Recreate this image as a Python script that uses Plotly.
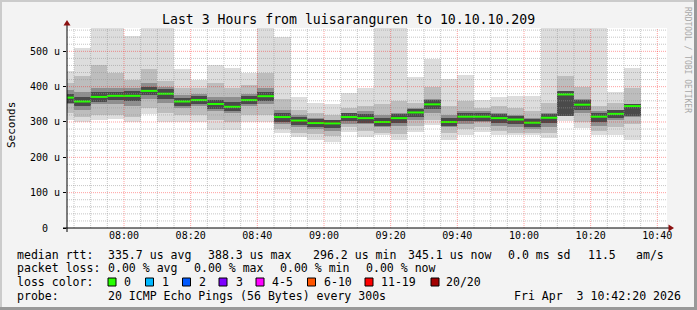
import plotly.graph_objects as go
from datetime import datetime, timedelta

# ---------------- data ----------------
first_bar = datetime(2026, 4, 3, 7, 40)
step_minutes = 5
# per 5-minute step: median rtt (microseconds) and smoke quantile envelopes
med = [369, 358, 371, 374, 374, 388, 380, 358, 362, 351, 343, 362, 373, 314, 304, 297,
       296, 314, 311, 300, 311, 327, 350, 300, 315, 315, 311, 307, 298, 312, 378, 349,
       315, 323, 345]
hi = [443, 510, 600, 600, 543, 600, 600, 450, 419, 461, 453, 439, 600, 541, 372, 354,
      351, 382, 397, 600, 600, 428, 479, 422, 433, 362, 371, 374, 374, 600, 600, 600,
      600, 386, 453]
lo = [306, 299, 306, 309, 299, 322, 301, 299, 299, 277, 277, 301, 301, 268, 258, 249,
      244, 273, 258, 263, 249, 273, 292, 249, 263, 273, 263, 264, 263, 256, 303, 284,
      263, 264, 249]
p90 = [410, 430, 460, 440, 420, 450, 415, 395, 395, 410, 395, 405, 440, 365, 335, 325,
       320, 340, 345, 350, 360, 355, 400, 345, 360, 340, 345, 340, 330, 355, 430, 400,
       345, 355, 395]
p10 = [325, 315, 320, 320, 315, 340, 325, 320, 320, 305, 300, 320, 320, 280, 270, 265,
       260, 285, 275, 270, 265, 290, 305, 270, 280, 285, 275, 270, 270, 270, 320, 300,
       275, 285, 295]
q3 = [390, 385, 395, 395, 395, 410, 400, 375, 380, 370, 370, 380, 395, 335, 320, 310,
      305, 325, 330, 320, 325, 340, 365, 320, 330, 330, 325, 320, 310, 325, 385, 365,
      330, 335, 350]
q1 = [350, 335, 350, 350, 345, 365, 355, 340, 345, 330, 325, 345, 350, 295, 285, 280,
      275, 295, 295, 285, 290, 305, 325, 285, 295, 300, 290, 285, 280, 285, 340, 325,
      290, 305, 315]
core_hi = [380, 372, 384, 386, 388, 400, 392, 368, 374, 362, 356, 374, 385, 326, 314, 308,
           306, 325, 322, 312, 322, 337, 362, 310, 326, 325, 322, 318, 308, 324, 388, 362,
           326, 334, 352]
core_lo = [355, 345, 358, 362, 360, 375, 365, 345, 350, 338, 330, 350, 360, 300, 292, 285,
           282, 302, 298, 288, 298, 314, 338, 288, 302, 304, 298, 294, 286, 298, 318, 334,
           300, 310, 316]

y_tick_values = [0, 100, 200, 300, 400, 500]
y_tick_labels = ["0", "100 u", "200 u", "300 u", "400 u", "500 u"]

title_text = "Last 3 Hours from luisaranguren to 10.10.10.209"
y_title = "Seconds"
watermark = "RRDTOOL / TOBI OETIKER"

legend_rows = [
    [("median rtt:", 16), ("335.7 us avg", 107), ("388.3 us max", 207), ("296.2 us min", 312),
     ("345.1 us now", 407), ("0.0 ms sd", 507), ("11.5", 587), ("am/s", 635)],
    [("packet loss:", 16), ("0.00 % avg", 107), ("0.00 % max", 193), ("0.00 % min", 279),
     ("0.00 % now", 365)],
    [("loss color:", 16)],
    [("probe:", 16), ("20 ICMP Echo Pings (56 Bytes) every 300s", 107),
     ("Fri Apr  3 10:42:20 2026", 513)],
]
legend_row_y = [254.5, 268.3, 282.3, 296.2]
loss_labels = ["0", "1", "2", "3", "4-5", "6-10", "11-19", "20/20"]
loss_colors = ["#26ff00", "#00b8ff", "#0059ff", "#7e00ff", "#ff00ff", "#ff5500", "#ff0000", "#a10000"]
loss_box_x = [108, 145.5, 182.5, 219, 256, 307.5, 365, 431]
loss_text_x = [123, 160.5, 197.5, 234.5, 270.5, 322.5, 380, 445]

# ---------------- geometry ----------------
W, H = 697, 310
L, R, T, B = 67, 30, 28, 82
PW, PH = W - L - R, H - T - B
x_start = datetime(2026, 4, 3, 7, 42, 54)
x_end = x_start + timedelta(hours=3)
y_max = 566

def px(xp):
    return (xp - L) / PW

def py(yp):
    return (T + PH - yp) / PH

MONO = "DejaVu Sans Mono"

starts = [first_bar + timedelta(minutes=step_minutes * i) for i in range(len(med))]
centers = [s + timedelta(minutes=step_minutes / 2) for s in starts]
bar_w = step_minutes * 60 * 1000

fig = go.Figure()

bands = [(lo, hi, "#dddddd"), (p10, p90, "#bdbdbd"), (q1, q3, "#8e8e8e"), (core_lo, core_hi, "#4a4a4a")]
for blo, bhi, col in bands:
    fig.add_trace(go.Bar(x=centers, base=blo, y=[h - l for l, h in zip(blo, bhi)],
                         width=bar_w, marker=dict(color=col, line=dict(width=0)),
                         hoverinfo="skip", showlegend=False))

mx, my = [], []
for s, m in zip(starts, med):
    mx += [s, s + timedelta(minutes=step_minutes), None]
    my += [m, m, None]
fig.add_trace(go.Scatter(x=mx, y=my, mode="lines", line=dict(color="#26ff00", width=2),
                         hoverinfo="skip", showlegend=False, cliponaxis=True))

shapes = []
# grid (drawn above the smoke like rrdtool)
t = datetime(2026, 4, 3, 7, 45)
while t < x_end:
    major = (t.minute % 20 == 0)
    shapes.append(dict(type="line", xref="x", yref="paper", x0=t, x1=t, y0=0, y1=1, layer="above",
                       line=dict(color="rgba(255,0,0,0.38)" if major else "rgba(150,150,150,0.55)",
                                 width=1, dash="1px,1px")))
    t += timedelta(minutes=5)
for v in range(20, y_max, 20):
    major = (v % 100 == 0)
    shapes.append(dict(type="line", xref="paper", yref="y", x0=0, x1=1, y0=v, y1=v, layer="above",
                       line=dict(color="rgba(255,0,0,0.38)" if major else "rgba(150,150,150,0.55)",
                                 width=1, dash="1px,1px")))
# axes lines + arrows
shapes.append(dict(type="line", xref="paper", yref="paper", x0=px(63), x1=px(669), y0=py(228), y1=py(228),
                   line=dict(color="#000000", width=1)))
shapes.append(dict(type="line", xref="paper", yref="paper", x0=px(67), x1=px(67), y0=py(232), y1=py(25),
                   line=dict(color="#000000", width=1)))
shapes.append(dict(type="path", xref="paper", yref="paper",
                   path=f"M {px(668.5)} {py(224.5)} L {px(674)} {py(228)} L {px(668.5)} {py(231.5)} Z",
                   fillcolor="#8b1010", line=dict(width=0)))
shapes.append(dict(type="path", xref="paper", yref="paper",
                   path=f"M {px(63.5)} {py(25.5)} L {px(67)} {py(20)} L {px(70.5)} {py(25.5)} Z",
                   fillcolor="#8b1010", line=dict(width=0)))
# frame
shapes.append(dict(type="rect", xref="paper", yref="paper", x0=px(0), x1=px(W), y0=py(0), y1=py(2),
                   fillcolor="#cbcbcb", line=dict(width=0), layer="below"))
shapes.append(dict(type="rect", xref="paper", yref="paper", x0=px(0), x1=px(2), y0=py(0), y1=py(H),
                   fillcolor="#cbcbcb", line=dict(width=0), layer="below"))
shapes.append(dict(type="rect", xref="paper", yref="paper", x0=px(0), x1=px(W), y0=py(H - 3), y1=py(H),
                   fillcolor="#999999", line=dict(width=0), layer="below"))
shapes.append(dict(type="rect", xref="paper", yref="paper", x0=px(W - 3), x1=px(W), y0=py(0), y1=py(H),
                   fillcolor="#999999", line=dict(width=0), layer="below"))
# loss colour boxes
for bx, col in zip(loss_box_x, loss_colors):
    shapes.append(dict(type="rect", xref="paper", yref="paper", x0=px(bx), x1=px(bx + 8),
                       y0=py(278), y1=py(286), fillcolor=col, line=dict(color="#000000", width=1)))

annotations = []
annotations.append(dict(text=title_text, xref="paper", yref="paper", x=px(348), y=py(19),
                        xanchor="center", yanchor="middle", showarrow=False,
                        font=dict(family=MONO, size=13.2, color="#000000")))
annotations.append(dict(text=y_title, xref="paper", yref="paper", x=px(11), y=py(125),
                        xanchor="center", yanchor="middle", showarrow=False, textangle=-90,
                        font=dict(family=MONO, size=11, color="#000000")))
annotations.append(dict(text=watermark, xref="paper", yref="paper", x=px(688), y=py(60),
                        xanchor="center", yanchor="middle", showarrow=False, textangle=90,
                        font=dict(family=MONO, size=8, color="#a8a8a8")))
for v, lab in zip(y_tick_values, y_tick_labels):
    annotations.append(dict(text=lab, xref="paper", yref="y", x=px(45), y=v,
                            xanchor="center", yanchor="middle", showarrow=False,
                            font=dict(family=MONO, size=10, color="#000000")))
for row, yy in zip(legend_rows, legend_row_y):
    for txt, xx in row:
        annotations.append(dict(text=txt.replace(" ", "&nbsp;"), xref="paper", yref="paper",
                                x=px(xx - 1), y=py(yy), xanchor="left", yanchor="middle",
                                showarrow=False, font=dict(family=MONO, size=11.55, color="#000000")))
for tx, lab in zip(loss_text_x, loss_labels):
    annotations.append(dict(text=lab, xref="paper", yref="paper", x=px(tx - 1), y=py(legend_row_y[2]),
                            xanchor="left", yanchor="middle", showarrow=False,
                            font=dict(family=MONO, size=11.55, color="#000000")))

fig.update_layout(
    width=W, height=H, margin=dict(l=L, r=R, t=T, b=B, pad=0),
    paper_bgcolor="#f3f3f3", plot_bgcolor="#ffffff",
    barmode="overlay", bargap=0, showlegend=False,
    shapes=shapes, annotations=annotations,
    xaxis=dict(type="date", range=[x_start, x_end], showgrid=False, zeroline=False, showline=False,
               tick0="2026-04-03 08:00", dtick=20 * 60 * 1000, tickformat="%H:%M",
               ticks="", tickfont=dict(family=MONO, size=10, color="#000000"),
               fixedrange=True),
    yaxis=dict(range=[0, y_max], showgrid=False, zeroline=False, showline=False,
               tickvals=y_tick_values, showticklabels=False, ticks="outside", ticklen=3,
               tickcolor="#000000", fixedrange=True),
)

fig.write_html("out.html")
